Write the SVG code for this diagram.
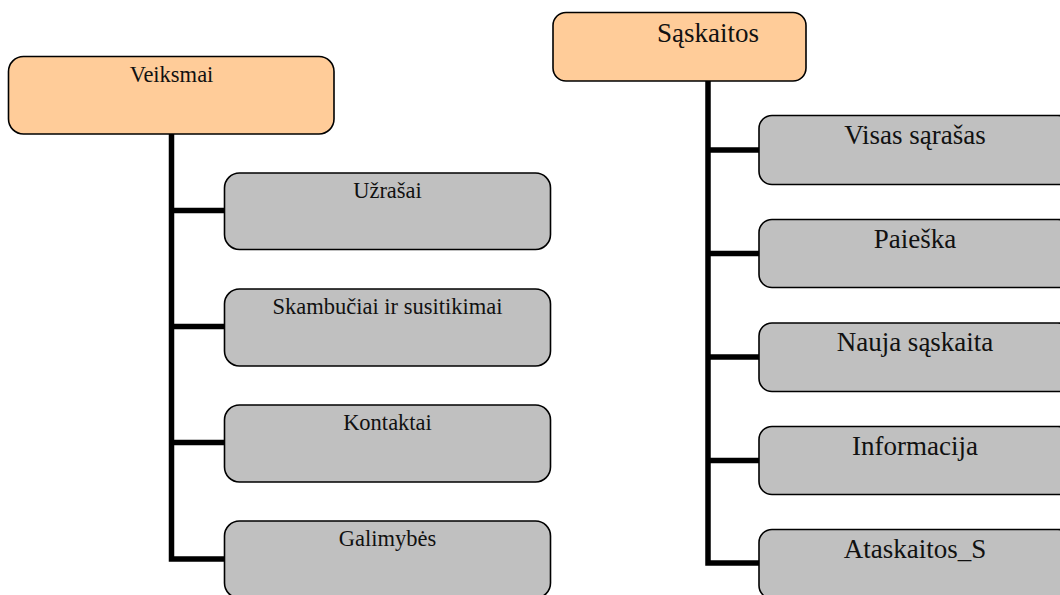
<svg xmlns="http://www.w3.org/2000/svg" width="1060" height="595" viewBox="0 0 1060 595">
  <style>
    .root { fill: #FFCC99; stroke: #000; stroke-width: 1.6; }
    .leaf { fill: #C0C0C0; stroke: #000; stroke-width: 1.6; }
    .wire { fill: none; stroke: #000; stroke-width: 5.5; stroke-linejoin: miter; }
    .lbl-s { font-family: "Liberation Serif", "Times New Roman", serif; font-size: 22.5px; fill: #111; text-anchor: middle; }
    .lbl-l { font-family: "Liberation Serif", "Times New Roman", serif; font-size: 27px; fill: #111; text-anchor: middle; }
  </style>
  <rect width="1060" height="595" fill="#fff"/>

  <!-- tree connectors -->
  <g id="connectors">
    <path class="wire" d="M171.5,134 V559 H224"/>
    <path class="wire" d="M171.5,210.5 H224 M171.5,326.5 H224 M171.5,442.5 H224"/>
    <path class="wire" d="M708,81 V563 H759"/>
    <path class="wire" d="M708,150 H759 M708,253.5 H759 M708,357 H759 M708,460.5 H759"/>
  </g>

  <!-- left branch -->
  <g id="veiksmai">
    <rect class="root" x="8.5" y="56.5" width="325.5" height="77.5" rx="15"/>
    <text class="lbl-s" x="171.5" y="82">Veiksmai</text>
  </g>
  <g id="uzrasai">
    <rect class="leaf" x="224.5" y="173" width="326" height="76.5" rx="15"/>
    <text class="lbl-s" x="387.5" y="197.5">Užrašai</text>
  </g>
  <g id="skambuciai">
    <rect class="leaf" x="224.5" y="289" width="326" height="77" rx="15"/>
    <text class="lbl-s" x="387.5" y="314">Skambučiai ir susitikimai</text>
  </g>
  <g id="kontaktai">
    <rect class="leaf" x="224.5" y="405" width="326" height="77" rx="15"/>
    <text class="lbl-s" x="387.5" y="429.5">Kontaktai</text>
  </g>
  <g id="galimybes">
    <rect class="leaf" x="224.5" y="521" width="326" height="77" rx="15"/>
    <text class="lbl-s" x="387.5" y="545.5">Galimybės</text>
  </g>

  <!-- right branch -->
  <g id="saskaitos">
    <rect class="root" x="553" y="12.5" width="253" height="68.5" rx="13"/>
    <text class="lbl-l" x="708" y="42">Sąskaitos</text>
  </g>
  <g id="visas-sarasas">
    <rect class="leaf" x="759" y="115.5" width="312" height="69" rx="13"/>
    <text class="lbl-l" x="915" y="144">Visas sąrašas</text>
  </g>
  <g id="paieska">
    <rect class="leaf" x="759" y="219.5" width="312" height="68" rx="13"/>
    <text class="lbl-l" x="915" y="247.5">Paieška</text>
  </g>
  <g id="nauja-saskaita">
    <rect class="leaf" x="759" y="323" width="312" height="68.5" rx="13"/>
    <text class="lbl-l" x="915" y="351">Nauja sąskaita</text>
  </g>
  <g id="informacija">
    <rect class="leaf" x="759" y="426.5" width="312" height="68" rx="13"/>
    <text class="lbl-l" x="915" y="454.5">Informacija</text>
  </g>
  <g id="ataskaitos-s">
    <rect class="leaf" x="759" y="529.5" width="312" height="69" rx="13"/>
    <text class="lbl-l" x="915" y="557.5">Ataskaitos_S</text>
  </g>
</svg>
